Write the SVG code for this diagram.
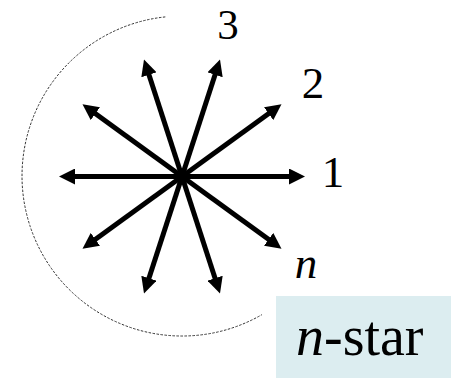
<svg xmlns="http://www.w3.org/2000/svg" width="451" height="378" viewBox="0 0 451 378">
<style>
.arrow{stroke:#000;stroke-width:5;fill:none;marker-end:url(#ah)}
</style>
<defs>
<marker id="ah" viewBox="0 0 16 16" refX="5" refY="8" markerWidth="16" markerHeight="16" markerUnits="userSpaceOnUse" orient="auto">
<path d="M0,0 L16,8 L0,16 z" fill="#000"/>
</marker>
</defs>
<rect width="451" height="378" fill="#fff"/>
<g id="boundary">
<path d="M165.3,16.9 A160,160 0 1 0 262,314.6" fill="none" stroke="#333" stroke-width="1" stroke-dasharray="2.5 1.5"/>
</g>
<g id="connectors">
<line class="arrow" x1="182" y1="176.5" x2="294" y2="176.5"/>
<line class="arrow" x1="182" y1="176.5" x2="272.6" y2="242.3"/>
<line class="arrow" x1="182" y1="176.5" x2="216.6" y2="283"/>
<line class="arrow" x1="182" y1="176.5" x2="147.4" y2="283"/>
<line class="arrow" x1="182" y1="176.5" x2="91.4" y2="242.3"/>
<line class="arrow" x1="182" y1="176.5" x2="70" y2="176.5"/>
<line class="arrow" x1="182" y1="176.5" x2="91.4" y2="110.7"/>
<line class="arrow" x1="182" y1="176.5" x2="147.4" y2="70"/>
<line class="arrow" x1="182" y1="176.5" x2="216.6" y2="70"/>
<line class="arrow" x1="182" y1="176.5" x2="272.6" y2="110.7"/>
</g>
<g font-family="Liberation Serif, Times New Roman, serif" font-size="45" fill="#000">
<g id="label-1"><text x="333" y="187" text-anchor="middle">1</text></g>
<g id="label-2"><text x="313" y="98" text-anchor="middle">2</text></g>
<g id="label-3"><text x="228" y="39" text-anchor="middle" font-size="43">3</text></g>
<g id="label-n"><text x="306" y="278" text-anchor="middle" font-style="italic">n</text></g>
<g id="title">
<rect x="276" y="296" width="175" height="82" fill="#dcedf0"/>
<text x="296" y="355" font-size="56"><tspan font-style="italic">n</tspan>-star</text>
</g>
</g>
</svg>
